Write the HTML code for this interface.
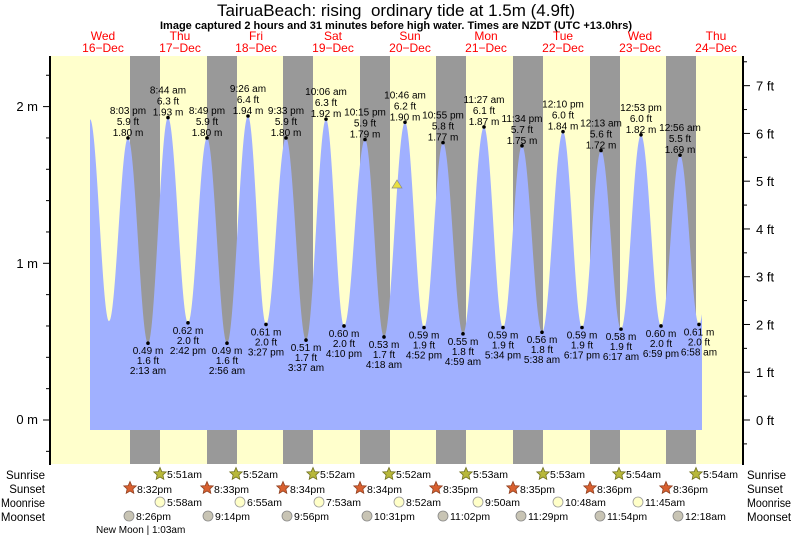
<!DOCTYPE html>
<html><head><meta charset="utf-8"><style>
body{margin:0;background:#fff;}
svg{display:block;font-family:"Liberation Sans",sans-serif;}
</style></head><body>
<svg id="s" width="793" height="537" xmlns="http://www.w3.org/2000/svg">
<rect x="0" y="0" width="793" height="537" fill="#fff"/>
<rect x="50" y="56" width="693" height="408" fill="#ffffcc"/>
<g id="night" fill="#999999"></g>
<path id="tide" fill="#a0b0ff" d=""/>
<g id="lbl" font-size="10" fill="#000" text-anchor="middle"></g>
<polygon points="392,188 402,188 397,180" fill="#e8e040" stroke="#888" stroke-width="0.7"/>
<line x1="50" y1="56" x2="50" y2="465" stroke="#000" stroke-width="2"/>
<line x1="743" y1="56" x2="743" y2="465" stroke="#000" stroke-width="2"/>
<g id="ticks" stroke="#000" stroke-width="1"></g>
<g font-size="13" fill="#000">
<text x="38" y="111" text-anchor="end">2 m</text>
<text x="38" y="268" text-anchor="end">1 m</text>
<text x="38" y="424" text-anchor="end">0 m</text>
</g>
<g id="ft" font-size="13" fill="#000"></g>
<text x="396" y="16" font-size="17" text-anchor="middle" fill="#000">TairuaBeach: rising&#160; ordinary tide at 1.5m (4.9ft)</text>
<text x="396" y="29" font-size="11" font-weight="bold" text-anchor="middle" fill="#000">Image captured 2 hours and 31 minutes before high water. Times are NZDT (UTC +13.0hrs)</text>
<g id="days" font-size="12" fill="#ff0000" text-anchor="middle"></g>
<g font-size="11.5" fill="#000">
<text x="45" y="479" text-anchor="end">Sunrise</text>
<text x="45" y="493" text-anchor="end">Sunset</text>
<text x="1" y="507" textLength="44" lengthAdjust="spacingAndGlyphs">Moonrise</text>
<text x="45" y="521" text-anchor="end">Moonset</text>
<text x="747" y="479">Sunrise</text>
<text x="747" y="493">Sunset</text>
<text x="747" y="507" textLength="44" lengthAdjust="spacingAndGlyphs">Moonrise</text>
<text x="747" y="521">Moonset</text>
</g>
<g id="astro" font-size="10.5" fill="#000"></g>
<text x="96" y="533" font-size="10" fill="#000">New Moon | 1:03am</text>
</svg>
<script>
var NS="http://www.w3.org/2000/svg";
function el(p,t,a,txt){var e=document.createElementNS(NS,t);for(var k in a)e.setAttribute(k,a[k]);if(txt!=null)e.textContent=txt;document.getElementById(p).appendChild(e);return e;}
var nights=[130,207,283,360,436,513,590,666];
nights.forEach(function(x){el("night","rect",{x:x,y:56,width:30,height:408});});
function Y(h){return 420-h*156.7;}
var pts=[[90,1.92],[109,0.63],
[128,1.80,"8:03 pm","5.9 ft",1],[148,0.49,"2:13 am","1.6 ft",0],[168,1.93,"8:44 am","6.3 ft",1],[188,0.62,"2:42 pm","2.0 ft",0],
[207,1.80,"8:49 pm","5.9 ft",1],[227,0.49,"2:56 am","1.6 ft",0],[248,1.94,"9:26 am","6.4 ft",1],[266,0.61,"3:27 pm","2.0 ft",0],
[286,1.80,"9:33 pm","5.9 ft",1],[306,0.51,"3:37 am","1.7 ft",0],[326,1.92,"10:06 am","6.3 ft",1],[344,0.60,"4:10 pm","2.0 ft",0],
[365,1.79,"10:15 pm","5.9 ft",1],[384,0.53,"4:18 am","1.7 ft",0],[405,1.90,"10:46 am","6.2 ft",1],[424,0.59,"4:52 pm","1.9 ft",0],
[443,1.77,"10:55 pm","5.8 ft",1],[463,0.55,"4:59 am","1.8 ft",0],[484,1.87,"11:27 am","6.1 ft",1],[503,0.59,"5:34 pm","1.9 ft",0],
[522,1.75,"11:34 pm","5.7 ft",1],[542,0.56,"5:38 am","1.8 ft",0],[563,1.84,"12:10 pm","6.0 ft",1],[582,0.59,"6:17 pm","1.9 ft",0],
[601,1.72,"12:13 am","5.6 ft",1],[621,0.58,"6:17 am","1.9 ft",0],[641,1.82,"12:53 pm","6.0 ft",1],[661,0.60,"6:59 pm","2.0 ft",0],
[680,1.69,"12:56 am","5.5 ft",1],[699,0.61,"6:58 am","2.0 ft",0],[718,1.70]];
var d="M90,430 L90,"+Y(1.92).toFixed(1);
for(var i=0;i<pts.length-1;i++){var a=pts[i],b=pts[i+1];
 for(var x=a[0]+1;x<=b[0];x+=0.5){if(x>702)break;var t=(x-a[0])/(b[0]-a[0]);var h=a[1]+(b[1]-a[1])*(1-Math.cos(Math.PI*t))/2;d+=" L"+x+","+Y(h).toFixed(1);}}
d+=" L702,430 Z";document.getElementById("tide").setAttribute("d",d);
pts.forEach(function(p){if(p.length<3)return;var y=Y(p[1]);
 el("lbl","circle",{cx:p[0],cy:y,r:1.8});
 var m=p[1].toFixed(2)+" m";
 if(p[4]){el("lbl","text",{x:p[0],y:y-24},p[2]);el("lbl","text",{x:p[0],y:y-13},p[3]);el("lbl","text",{x:p[0],y:y-2},m);}
 else{el("lbl","text",{x:p[0],y:y+11},m);el("lbl","text",{x:p[0],y:y+21},p[3]);el("lbl","text",{x:p[0],y:y+31},p[2]);}
});
for(var h=-0.2;h<=2.3;h+=0.2){var y=Y(h);if(y<57||y>463)continue;var maj=Math.abs(h-Math.round(h))<0.01;el("ticks","line",{x1:maj?43:46,x2:50,y1:y,y2:y});}
for(var f=-0.5;f<=7.5;f+=0.5){var y=Y(f*0.3048);if(y<57||y>463)continue;var maj=Math.abs(f-Math.round(f))<0.01;el("ticks","line",{x1:743,x2:maj?750:747,y1:y,y2:y});
 if(maj&&f>=0)el("ft","text",{x:756,y:y+5},f+" ft");}
var days=[["Wed","16-Dec",103],["Thu","17-Dec",180],["Fri","18-Dec",256],["Sat","19-Dec",333],["Sun","20-Dec",410],["Mon","21-Dec",486],["Tue","22-Dec",563],["Wed","23-Dec",640],["Thu","24-Dec",716]];
days.forEach(function(a){el("days","text",{x:a[2],y:40},a[0]);el("days","text",{x:a[2],y:52},a[1].replace("-","\u2212"));});
function star(cx,cy,fill,stroke){var s="";for(var i=0;i<10;i++){var r=i%2?3:6.5;var an=-Math.PI/2+i*Math.PI/5;s+=(cx+r*Math.cos(an)).toFixed(1)+","+(cy+r*Math.sin(an)).toFixed(1)+" ";}el("astro","polygon",{points:s,fill:fill,stroke:stroke,"stroke-width":0.8});}
var sr=[[160,"5:51am"],[236,"5:52am"],[313,"5:52am"],[389,"5:52am"],[466,"5:53am"],[543,"5:53am"],[619,"5:54am"],[696,"5:54am"]];
sr.forEach(function(a){star(a[0],474,"#b8b83a","#707020");el("astro","text",{x:a[0]+7,y:478},a[1]);});
var ss=[[130,"8:32pm"],[207,"8:33pm"],[283,"8:34pm"],[360,"8:34pm"],[436,"8:35pm"],[513,"8:35pm"],[590,"8:36pm"],[666,"8:36pm"]];
ss.forEach(function(a){star(a[0],488,"#d86030","#904020");el("astro","text",{x:a[0]+7,y:493},a[1]);});
var mr=[[160,"5:58am"],[240,"6:55am"],[319,"7:53am"],[399,"8:52am"],[478,"9:50am"],[558,"10:48am"],[638,"11:45am"]];
mr.forEach(function(a){el("astro","circle",{cx:a[0],cy:502,r:5,fill:"#ffffc8",stroke:"#999","stroke-width":0.8});el("astro","text",{x:a[0]+7,y:506},a[1]);});
var ms=[[129,"8:26pm"],[208,"9:14pm"],[287,"9:56pm"],[367,"10:31pm"],[443,"11:02pm"],[521,"11:29pm"],[600,"11:54pm"],[678,"12:18am"]];
ms.forEach(function(a){el("astro","circle",{cx:a[0],cy:516,r:5,fill:"#c8c4b4",stroke:"#888","stroke-width":0.8});el("astro","text",{x:a[0]+7,y:520},a[1]);});
</script>
</body></html>
